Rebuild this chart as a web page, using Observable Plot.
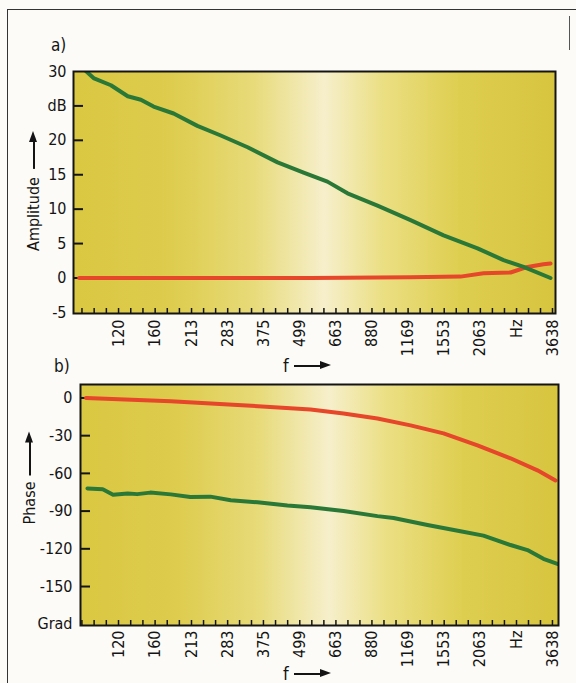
<!DOCTYPE html>
<html>
<head>
<meta charset="utf-8">
<script src="https://cdn.jsdelivr.net/npm/d3@7"></script>
<script src="https://cdn.jsdelivr.net/npm/@observablehq/plot@0.6"></script>
<style>
  html, body { margin: 0; padding: 0; background: #fcfbf7; }
  #page { position: relative; width: 576px; height: 683px; overflow: hidden; background: #fcfbf7;
          font-family: "DejaVu Sans Condensed", "DejaVu Sans", sans-serif; font-stretch: condensed; color: #141414; }
  .abs { position: absolute; }
  .plotbox { position: absolute; left: 0; }
  .plabel { position: absolute; font-size: 17px; line-height: 1; }
  .ytitle { position: absolute; display: flex; align-items: center; white-space: nowrap;
            font-size: 16px; line-height: 1; transform: translate(-50%, -50%) rotate(-90deg); }
  .xtitle { position: absolute; display: flex; align-items: center; white-space: nowrap;
            font-size: 18px; line-height: 1; transform: translateY(-50%); }
  .arrow { display: inline-block; position: relative; height: 1.6px; background: #141414; }
  .arrow::after { content: ""; position: absolute; right: -10px; top: -4px;
                  border-left: 11px solid #141414; border-top: 4.8px solid transparent; border-bottom: 4.8px solid transparent; }
</style>
</head>
<body>
<div id="page">
  <div class="abs" style="left:7px; top:9px; width:569px; height:0; border-top:1.5px solid #333;"></div>
  <div class="abs" style="left:7px; top:9px; width:0; height:674px; border-left:1.5px solid #333;"></div>
  <div class="abs" style="left:569px; top:16px; width:0; height:34px; border-left:1.5px solid #555;"></div>

  <div class="plabel" style="left:51px; top:37px;">a)</div>
  <div class="plabel" style="left:54px; top:358px;">b)</div>

  <div class="ytitle" style="left:34px; top:191px;"><span>Amplitude</span><span class="arrow" style="width:28px; margin-left:8px; margin-right:10px;"></span></div>
  <div class="ytitle" style="left:30px; top:478px;"><span>Phase</span><span class="arrow" style="width:34px; margin-left:6px; margin-right:10px;"></span></div>

  <div class="xtitle" style="left:283px; top:366px;"><span>f</span><span class="arrow" style="width:27px; margin-left:5px;"></span></div>
  <div class="xtitle" style="left:283px; top:674px;"><span>f</span><span class="arrow" style="width:27px; margin-left:5px;"></span></div>

  <div id="top" class="plotbox" style="top:0px;"></div>
  <div id="bottom" class="plotbox" style="top:365px;"></div>
</div>
<script>
// ---- tick labels ----
const xTickValues = [120, 160, 213, 283, 375, 499, 663, 880, 1169, 1553, 2063, 2742, 3638];
const xTickLabels = ["120", "160", "213", "283", "375", "499", "663", "880", "1169", "1553", "2063", "Hz", "3638"];

const ampTickValues = [30, 25, 20, 15, 10, 5, 0, -5];
const ampTickLabels = ["30", "dB", "20", "15", "10", "5", "0", "-5"];
const ampInnerTicks = [25, 20, 15, 10, 5, 0];

const phaseTickValues = [0, -30, -60, -90, -120, -150, -180];
const phaseTickLabels = ["0", "-30", "-60", "-90", "-120", "-150", "Grad"];
const phaseInnerTicks = [0, -30, -60, -90, -120, -150];

// ---- series: a) amplitude (dB) ----
const ampGreenFreq = [92, 99, 113, 129, 143, 158, 185, 223, 268, 331, 419, 514, 620, 726, 919, 1192, 1545, 2018, 2476, 2898, 3582];
const ampGreen     = [30.2, 29.0, 28.0, 26.4, 25.9, 24.9, 23.9, 22.1, 20.7, 19.0, 16.8, 15.3, 14.0, 12.3, 10.5, 8.4, 6.2, 4.3, 2.6, 1.6, 0.0];
const ampRedFreq   = [88, 300, 543, 1192, 1765, 2115, 2616, 2990, 3388, 3582];
const ampRed       = [0.0, 0.0, 0.0, 0.1, 0.2, 0.7, 0.8, 1.6, 2.0, 2.1];

// ---- series: b) phase (Grad) ----
const phRedFreq   = [93, 181, 306, 543, 704, 919, 1192, 1545, 2018, 2616, 3234, 3726];
const phRed       = [0, -2.7, -5.6, -9.1, -12.3, -16.3, -21.8, -28.2, -37.8, -48, -57.6, -65.6];
const phGreenFreq = [94, 106, 115, 129, 139, 154, 181, 211, 247, 290, 358, 453, 543, 704, 919, 1043, 1362, 1765, 2115, 2616, 2990, 3388, 3784];
const phGreen     = [-72, -72.7, -77, -76, -76.5, -75.3, -76.7, -78.8, -78.5, -81.3, -83, -85.5, -87, -90, -94, -95.5, -101, -106, -109.5, -117, -121, -128, -132];

const FONT = '"DejaVu Sans Condensed", "DejaVu Sans", sans-serif';
const GREEN = "#2a7837";
const RED = "#e6462a";
const INK = "#141414";

function toRows(xs, ys) { return xs.map((x, i) => ({f: x, v: ys[i]})); }
function labelFor(values, labels) {
  return d => { const i = values.findIndex(v => Math.abs(v - d) < 0.5); return i < 0 ? "" : labels[i]; };
}

// minor ticks: thirds between labelled frequencies, extended over the domain
function minorTicks(domain) {
  const out = [];
  const v = xTickValues;
  const r0 = v[1] / v[0];
  for (let k = 3; k >= 1; k--) { const t = v[0] / Math.pow(r0, k / 3); if (t > domain[0]) out.push(t); }
  for (let i = 0; i < v.length - 1; i++) {
    const r = v[i + 1] / v[i];
    const n = Math.round(Math.log(r) / Math.log(r0)) * 3;
    for (let k = 0; k < n; k++) out.push(v[i] * Math.pow(r, k / n));
  }
  out.push(v[v.length - 1]);
  for (let k = 1; k <= 3; k++) { const t = v[v.length - 1] * Math.pow(r0, k / 3); if (t < domain[1]) out.push(t); }
  return out;
}

function addGradient(svg, id) {
  const ns = "http://www.w3.org/2000/svg";
  const defs = document.createElementNS(ns, "defs");
  defs.innerHTML = `<linearGradient id="${id}" x1="0" x2="1" y1="0" y2="0">
      <stop offset="0" stop-color="#dac842"/>
      <stop offset="0.2" stop-color="#ddcc4d"/>
      <stop offset="0.37" stop-color="#e7da78"/>
      <stop offset="0.52" stop-color="#f6efcb"/>
      <stop offset="0.64" stop-color="#ebdf84"/>
      <stop offset="0.8" stop-color="#dece50"/>
      <stop offset="1" stop-color="#d7c53f"/>
    </linearGradient>`;
  svg.insertBefore(defs, svg.firstChild);
}

function panel({height, mt, mb, ml, mr, xDomain, yDomain, yTicks, yLabels, yInner, series, gradId, xPad, yPad}) {
  const pw = 576 - ml - mr;
  const ph = height - mt - mb;
  const svg = Plot.plot({
    width: 576, height,
    marginTop: mt, marginBottom: mb, marginLeft: ml, marginRight: mr,
    style: {fontFamily: FONT, fontSize: "16px", color: INK, background: "transparent", overflow: "visible", fontStretch: "condensed"},
    x: {type: "log", domain: xDomain, axis: null},
    y: {domain: yDomain, axis: null},
    marks: [
      Plot.frame({fill: `url(#${gradId})`, stroke: "none"}),
      Plot.tickX(minorTicks(xDomain), {x: d => d, insetTop: ph - 5, stroke: INK, strokeWidth: 1.5}),
      Plot.tickY(yInner, {y: d => d, insetRight: pw - 10, stroke: INK, strokeWidth: 2}),
      ...series.map(s => Plot.line(toRows(s.x, s.y), {x: "f", y: "v", stroke: s.color, strokeWidth: 4, strokeLinejoin: "round", strokeLinecap: "round", clip: true})),
      Plot.frame({stroke: INK, strokeWidth: 2}),
      Plot.text(xTickValues, {x: d => d, text: labelFor(xTickValues, xTickLabels), frameAnchor: "bottom",
        rotate: -90, textAnchor: "end", lineAnchor: "middle", dy: xPad, fill: INK}),
      Plot.text(yTicks, {y: d => d, text: labelFor(yTicks, yLabels), frameAnchor: "left",
        textAnchor: "end", lineAnchor: "middle", dx: -yPad, fill: INK})
    ]
  });
  addGradient(svg, gradId);
  return svg;
}

document.getElementById("top").appendChild(panel({
  height: 365, mt: 71, mb: 52, ml: 73, mr: 21,
  xDomain: [84.2, 3725], yDomain: [-5.16, 30],
  yTicks: ampTickValues, yLabels: ampTickLabels, yInner: ampInnerTicks,
  series: [{x: ampRedFreq, y: ampRed, color: RED}, {x: ampGreenFreq, y: ampGreen, color: GREEN}],
  gradId: "gradTop", xPad: 6, yPad: 7
}));

document.getElementById("bottom").appendChild(panel({
  height: 318, mt: 19, mb: 58, ml: 80, mr: 18,
  xDomain: [89, 3815], yDomain: [-181, 10.7],
  yTicks: phaseTickValues, yLabels: phaseTickLabels, yInner: phaseInnerTicks,
  series: [{x: phRedFreq, y: phRed, color: RED}, {x: phGreenFreq, y: phGreen, color: GREEN}],
  gradId: "gradBottom", xPad: 5, yPad: 8
}));
</script>
</body>
</html>
